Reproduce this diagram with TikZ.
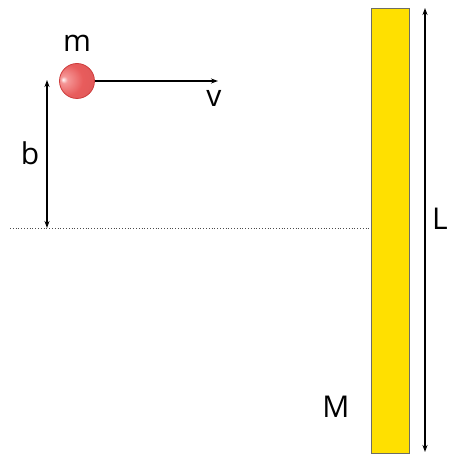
\documentclass[tikz,border=0pt]{standalone}
\usepackage{fontspec}
\setmainfont{Open Sans}
\usetikzlibrary{arrows.meta}
\definecolor{barY}{RGB}{255,224,0}
\definecolor{barB}{RGB}{110,110,100}
\definecolor{ballR}{RGB}{232,92,92}
\definecolor{ballL}{RGB}{245,150,150}
\definecolor{ballB}{RGB}{205,60,60}
\pgfdeclareradialshading{myball}{\pgfpoint{-20bp}{2bp}}{color(0bp)=(white!95!ballL); color(5bp)=(ballL); color(22bp)=(ballR); color(45bp)=(ballR!95!black); color(70bp)=(ballR!95!black)}
\tikzset{
  arr/.style={line width=1.3pt,-{Stealth[length=7pt,width=5pt]}},
  darr/.style={line width=1.3pt,{Stealth[length=7pt,width=5pt]}-{Stealth[length=7pt,width=5pt]}},
  lab/.style={font=\fontsize{30}{30}\selectfont,inner sep=0pt}
}
\begin{document}
\begin{tikzpicture}[x=1pt,y=-1pt]
\clip (0,0) rectangle (448,454);
\useasboundingbox (0,0) rectangle (448,454);
% bar
\node[draw=barB,fill=barY,line width=0.8pt,minimum width=38pt,minimum height=445pt,inner sep=0pt,anchor=north west] (bar) at (371,8) {};
% L arrow
\coordinate (Lt) at (425,8);
\coordinate (Lb) at (425,452);
\draw[darr] (Lt) -- (Lb);
\node[lab,anchor=west] (L) at (432,219) {L};
% ball
\node[circle,minimum size=35pt,inner sep=0pt,shading=myball,draw=ballB,line width=0.8pt] (ball) at (77,81) {};
\node[lab] (m) at (77,43) {m};
% velocity
\coordinate (vend) at (218,81);
\draw[arr] (ball.east) -- (vend);
\node[lab] (v) at (214,98) {v};
% dotted line
\coordinate (dl) at (10,228);
\coordinate (dr) at (370,228);
\draw[dotted,line width=0.8pt,black!70] (dl) -- (dr);
% b arrow
\coordinate (bt) at (47,80);
\coordinate (bb) at (47,228);
\draw[darr] (bt) -- (bb);
\node[lab] (b) at (30,153) {b};
% M
\node[lab] (M) at (336,407) {M};
\end{tikzpicture}
\end{document}
